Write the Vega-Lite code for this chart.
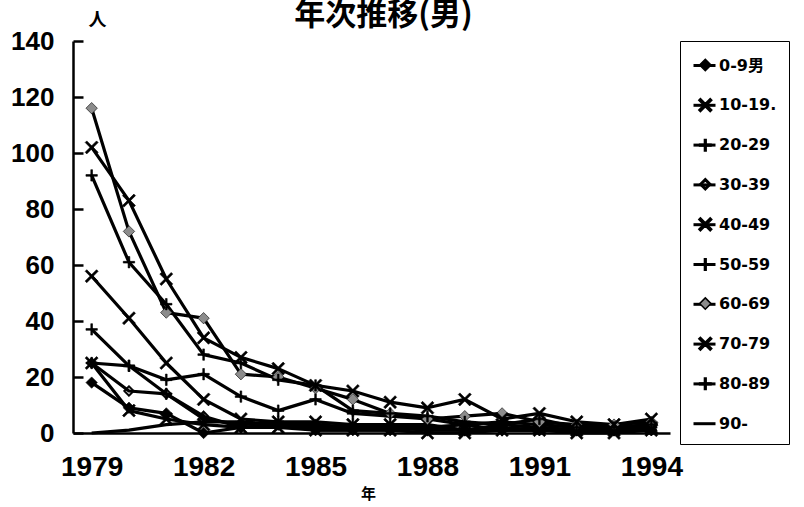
{
  "$schema": "https://vega.github.io/schema/vega-lite/v6.json",
  "width": 597,
  "height": 392,
  "autosize": "none",
  "padding": {"left": 73, "top": 41, "right": 134, "bottom": 74},
  "background": "white",
  "title": {"text": "年次推移(男)", "fontSize": 31, "font": "Noto Sans CJK JP", "fontWeight": "bold", "anchor": "middle", "frame": "group", "dx": 12, "dy": 30, "offset": -22, "baseline": "bottom", "color": "black"},
  "data": {"values": [
    {"year":1979,"group":"0-9男","value":18},{"year":1980,"group":"0-9男","value":9},{"year":1981,"group":"0-9男","value":7},{"year":1982,"group":"0-9男","value":0},{"year":1983,"group":"0-9男","value":2},{"year":1984,"group":"0-9男","value":3},{"year":1985,"group":"0-9男","value":3},{"year":1986,"group":"0-9男","value":2},{"year":1987,"group":"0-9男","value":2},{"year":1988,"group":"0-9男","value":2},{"year":1989,"group":"0-9男","value":1},{"year":1990,"group":"0-9男","value":2},{"year":1991,"group":"0-9男","value":1},{"year":1992,"group":"0-9男","value":1},{"year":1993,"group":"0-9男","value":1},{"year":1994,"group":"0-9男","value":1},
    {"year":1979,"group":"10-19.","value":25},{"year":1980,"group":"10-19.","value":8},{"year":1981,"group":"10-19.","value":5},{"year":1982,"group":"10-19.","value":3},{"year":1983,"group":"10-19.","value":2},{"year":1984,"group":"10-19.","value":2},{"year":1985,"group":"10-19.","value":1},{"year":1986,"group":"10-19.","value":1},{"year":1987,"group":"10-19.","value":1},{"year":1988,"group":"10-19.","value":0},{"year":1989,"group":"10-19.","value":0},{"year":1990,"group":"10-19.","value":1},{"year":1991,"group":"10-19.","value":1},{"year":1992,"group":"10-19.","value":0},{"year":1993,"group":"10-19.","value":0},{"year":1994,"group":"10-19.","value":1},
    {"year":1979,"group":"20-29","value":25},{"year":1980,"group":"20-29","value":24},{"year":1981,"group":"20-29","value":19},{"year":1982,"group":"20-29","value":21},{"year":1983,"group":"20-29","value":13},{"year":1984,"group":"20-29","value":8},{"year":1985,"group":"20-29","value":12},{"year":1986,"group":"20-29","value":7},{"year":1987,"group":"20-29","value":6},{"year":1988,"group":"20-29","value":5},{"year":1989,"group":"20-29","value":3},{"year":1990,"group":"20-29","value":4},{"year":1991,"group":"20-29","value":3},{"year":1992,"group":"20-29","value":2},{"year":1993,"group":"20-29","value":2},{"year":1994,"group":"20-29","value":3},
    {"year":1979,"group":"30-39","value":25},{"year":1980,"group":"30-39","value":15},{"year":1981,"group":"30-39","value":14},{"year":1982,"group":"30-39","value":6},{"year":1983,"group":"30-39","value":2},{"year":1984,"group":"30-39","value":3},{"year":1985,"group":"30-39","value":1},{"year":1986,"group":"30-39","value":1},{"year":1987,"group":"30-39","value":1},{"year":1988,"group":"30-39","value":2},{"year":1989,"group":"30-39","value":3},{"year":1990,"group":"30-39","value":1},{"year":1991,"group":"30-39","value":1},{"year":1992,"group":"30-39","value":1},{"year":1993,"group":"30-39","value":1},{"year":1994,"group":"30-39","value":1},
    {"year":1979,"group":"40-49","value":56},{"year":1980,"group":"40-49","value":41},{"year":1981,"group":"40-49","value":25},{"year":1982,"group":"40-49","value":12},{"year":1983,"group":"40-49","value":5},{"year":1984,"group":"40-49","value":4},{"year":1985,"group":"40-49","value":4},{"year":1986,"group":"40-49","value":3},{"year":1987,"group":"40-49","value":3},{"year":1988,"group":"40-49","value":3},{"year":1989,"group":"40-49","value":1},{"year":1990,"group":"40-49","value":3},{"year":1991,"group":"40-49","value":2},{"year":1992,"group":"40-49","value":1},{"year":1993,"group":"40-49","value":1},{"year":1994,"group":"40-49","value":2},
    {"year":1979,"group":"50-59","value":37},{"year":1980,"group":"50-59","value":24},{"year":1981,"group":"50-59","value":14},{"year":1982,"group":"50-59","value":5},{"year":1983,"group":"50-59","value":3},{"year":1984,"group":"50-59","value":4},{"year":1985,"group":"50-59","value":2},{"year":1986,"group":"50-59","value":3},{"year":1987,"group":"50-59","value":2},{"year":1988,"group":"50-59","value":1},{"year":1989,"group":"50-59","value":1},{"year":1990,"group":"50-59","value":1},{"year":1991,"group":"50-59","value":2},{"year":1992,"group":"50-59","value":1},{"year":1993,"group":"50-59","value":1},{"year":1994,"group":"50-59","value":2},
    {"year":1979,"group":"60-69","value":116},{"year":1980,"group":"60-69","value":72},{"year":1981,"group":"60-69","value":43},{"year":1982,"group":"60-69","value":41},{"year":1983,"group":"60-69","value":21},{"year":1984,"group":"60-69","value":20},{"year":1985,"group":"60-69","value":16},{"year":1986,"group":"60-69","value":12},{"year":1987,"group":"60-69","value":7},{"year":1988,"group":"60-69","value":5},{"year":1989,"group":"60-69","value":6},{"year":1990,"group":"60-69","value":7},{"year":1991,"group":"60-69","value":4},{"year":1992,"group":"60-69","value":3},{"year":1993,"group":"60-69","value":3},{"year":1994,"group":"60-69","value":4},
    {"year":1979,"group":"70-79","value":102},{"year":1980,"group":"70-79","value":83},{"year":1981,"group":"70-79","value":55},{"year":1982,"group":"70-79","value":34},{"year":1983,"group":"70-79","value":27},{"year":1984,"group":"70-79","value":23},{"year":1985,"group":"70-79","value":17},{"year":1986,"group":"70-79","value":15},{"year":1987,"group":"70-79","value":11},{"year":1988,"group":"70-79","value":9},{"year":1989,"group":"70-79","value":12},{"year":1990,"group":"70-79","value":5},{"year":1991,"group":"70-79","value":7},{"year":1992,"group":"70-79","value":4},{"year":1993,"group":"70-79","value":3},{"year":1994,"group":"70-79","value":5},
    {"year":1979,"group":"80-89","value":92},{"year":1980,"group":"80-89","value":61},{"year":1981,"group":"80-89","value":46},{"year":1982,"group":"80-89","value":28},{"year":1983,"group":"80-89","value":25},{"year":1984,"group":"80-89","value":19},{"year":1985,"group":"80-89","value":17},{"year":1986,"group":"80-89","value":8},{"year":1987,"group":"80-89","value":7},{"year":1988,"group":"80-89","value":6},{"year":1989,"group":"80-89","value":4},{"year":1990,"group":"80-89","value":3},{"year":1991,"group":"80-89","value":5},{"year":1992,"group":"80-89","value":2},{"year":1993,"group":"80-89","value":2},{"year":1994,"group":"80-89","value":3},
    {"year":1979,"group":"90-","value":0},{"year":1980,"group":"90-","value":1},{"year":1981,"group":"90-","value":3},{"year":1982,"group":"90-","value":4},{"year":1983,"group":"90-","value":4},{"year":1984,"group":"90-","value":3},{"year":1985,"group":"90-","value":2},{"year":1986,"group":"90-","value":2},{"year":1987,"group":"90-","value":2},{"year":1988,"group":"90-","value":1},{"year":1989,"group":"90-","value":1},{"year":1990,"group":"90-","value":1},{"year":1991,"group":"90-","value":1},{"year":1992,"group":"90-","value":1},{"year":1993,"group":"90-","value":1},{"year":1994,"group":"90-","value":1}
  ]},
  "encoding": {
    "x": {
      "field": "year", "type": "quantitative",
      "scale": {"domain": [1978.5, 1994.5], "nice": false, "zero": false},
      "axis": {
        "values": [1979, 1982, 1985, 1988, 1991, 1994], "format": "d",
        "ticks": false, "grid": false, "domainColor": "black", "domainWidth": 2.5,
        "labelFont": "Liberation Sans", "labelFontSize": 28, "labelFontWeight": "bold", "labelColor": "black", "labelPadding": 20,
        "title": "年", "titleFont": "Noto Sans CJK JP", "titleFontSize": 15, "titleFontWeight": "bold", "titleColor": "black",
        "titleX": 295, "titleY": 60, "titleAlign": "center", "titleBaseline": "middle"
      }
    },
    "y": {
      "field": "value", "type": "quantitative",
      "scale": {"domain": [0, 140], "nice": false},
      "axis": {
        "values": [0, 20, 40, 60, 80, 100, 120, 140],
        "grid": false, "domainColor": "black", "domainWidth": 2.5, "tickColor": "black", "tickWidth": 2.5, "tickSize": -10,
        "labelFont": "Liberation Sans", "labelFontSize": 26, "labelFontWeight": "bold", "labelColor": "black", "labelPadding": 29,
        "title": "人", "titleFont": "Noto Sans CJK JP", "titleFontSize": 18, "titleFontWeight": "bold", "titleColor": "black", "titleAngle": 0,
        "titleX": 24, "titleY": -21, "titleAlign": "center", "titleBaseline": "middle"
      }
    }
  },
  "layer": [
    {
      "mark": {"type": "line", "strokeWidth": 3.2, "strokeJoin": "round"},
      "encoding": {
        "stroke": {
          "field": "group", "type": "nominal",
          "scale": {"domain": ["0-9男","10-19.","20-29","30-39","40-49","50-59","60-69","70-79","80-89","90-"], "range": ["black","black","black","black","black","black","black","black","black","black"]},
          "legend": {
            "orient": "right", "offset": 10, "title": null,
            "symbolType": "stroke", "symbolSize": 484, "symbolStrokeWidth": 3,
            "rowPadding": 18.8, "padding": 12, "strokeColor": "black",
            "labelFont": "DejaVu Sans, Noto Sans CJK JP", "labelFontSize": 16, "labelFontWeight": "bold", "labelColor": "black", "labelOffset": 2,
            "encode": {"legend": {"strokeWidth": {"value": 2}}}
          }
        }
      }
    },
    {
      "mark": {"type": "point", "filled": true, "stroke": "black", "strokeWidth": 0.6, "opacity": 1, "size": 130},
      "encoding": {
        "shape": {
          "field": "group", "type": "nominal",
          "scale": {"domain": ["0-9男","10-19.","20-29","30-39","40-49","50-59","60-69","70-79","80-89","90-"],
            "range": [
              "M0,-1L1,0L0,1L-1,0Z",
              "M-0.86,-1.14L1.14,0.86L0.86,1.14L-1.14,-0.86ZM-1.14,0.86L0.86,-1.14L1.14,-0.86L-0.86,1.14Z",
              "M-1,-0.15L1,-0.15L1,0.15L-1,0.15ZM-0.15,-1L0.15,-1L0.15,1L-0.15,1Z",
              "M0,-1L1,0L0,1L-1,0ZM0,-0.62L-0.62,0L0,0.62L0.62,0Z",
              "M-0.86,-1.14L1.14,0.86L0.86,1.14L-1.14,-0.86ZM-1.14,0.86L0.86,-1.14L1.14,-0.86L-0.86,1.14Z",
              "M-1,-0.15L1,-0.15L1,0.15L-1,0.15ZM-0.15,-1L0.15,-1L0.15,1L-0.15,1Z",
              "M0,-1L1,0L0,1L-1,0Z",
              "M-0.86,-1.14L1.14,0.86L0.86,1.14L-1.14,-0.86ZM-1.14,0.86L0.86,-1.14L1.14,-0.86L-0.86,1.14Z",
              "M-1,-0.15L1,-0.15L1,0.15L-1,0.15ZM-0.15,-1L0.15,-1L0.15,1L-0.15,1Z",
              "M0,0"
            ]},
          "legend": {
            "orient": "none", "legendX": 612.3, "legendY": 4, "title": null,
            "symbolSize": 130,
            "rowPadding": 21.1, "padding": 12,
            "labelFont": "DejaVu Sans, Noto Sans CJK JP", "labelFontSize": 16, "labelFontWeight": "bold", "labelOpacity": 0, "labelOffset": 2
          }
        },
        "fill": {
          "field": "group", "type": "nominal",
          "scale": {"domain": ["0-9男","10-19.","20-29","30-39","40-49","50-59","60-69","70-79","80-89","90-"],
            "range": ["black","black","black","black","black","black","#8c8c8c","black","black","black"]},
          "legend": null
        }
      }
    }
  ],
  "config": {"view": {"stroke": null}}
}
